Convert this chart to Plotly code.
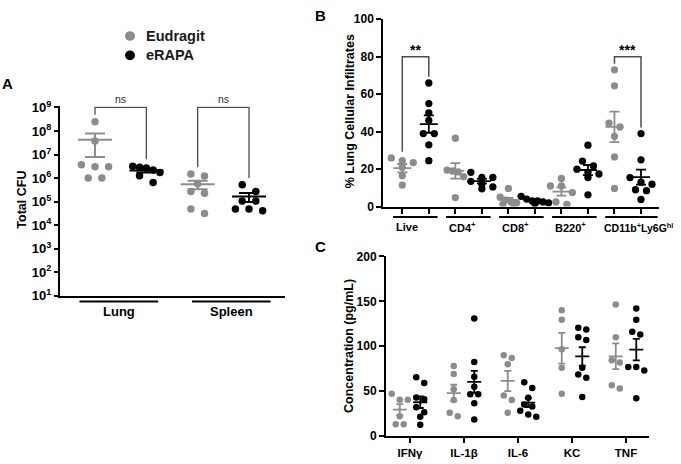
import numpy as np
import plotly.graph_objects as go

W, H = 681, 464
FONT = "Liberation Sans, Arial, Helvetica, sans-serif"
GRAY = "#8c8c8c"
BLACK = "#000000"
BRACKET = "#4d4d4d"

# ---------------- data ----------------
series_names = ["Eudragit", "eRAPA"]
series_colors = [GRAY, BLACK]

# Panel A : Total CFU (log scale)
a_organs = ["Lung", "Spleen"]
a_lung_eudragit = [2.5e8, 3.8e7, 3.0e6, 3.7e6, 3.0e6, 1.0e6, 1.0e6]
a_lung_erapa = [2.7e6, 2.2e6, 1.74e6, 2.9e6, 3.2e6, 1.26e6, 6.5e5]
a_spleen_eudragit = [1.22e6, 1.48e6, 5.8e5, 2.24e5, 2.7e5, 4.9e4, 3.1e4]
a_spleen_erapa = [5.2e5, 2.7e5, 1.05e5, 1.05e5, 4.1e4, 4.9e4, 4.9e4]
a_sig = ["ns", "ns"]
a_exponents = [1, 2, 3, 4, 5, 6, 7, 8, 9]

# Panel B : % lung cellular infiltrates
b_populations = ["Live", "CD4<sup>+</sup>", "CD8<sup>+</sup>", "B220<sup>+</sup>",
                 "CD11b<sup>+</sup>Ly6G<sup>hi</sup>"]
b_live_eudragit = [24.5, 26, 23.5, 21, 16.5, 11.5]
b_live_erapa = [66, 55, 50, 46, 39, 39, 33, 24.5]
b_cd4_eudragit = [36.5, 19.5, 19, 18.5, 16, 4.8]
b_cd4_erapa = [18.3, 15.6, 15.6, 13.5, 12, 10.5, 9.5]
b_cd8_eudragit = [9.7, 5, 3.5, 2.5, 2, 1.2, 1]
b_cd8_erapa = [5.5, 4, 3, 3, 2.5, 2, 1.5]
b_b220_eudragit = [15, 11, 11, 7.5, 2.5, 1.2]
b_b220_erapa = [32.8, 24.3, 21.7, 20, 18.3, 17.4, 15.5, 6.3]
b_cd11b_eudragit = [73, 64.5, 44.5, 42.5, 37.5, 26.5, 9.7]
b_cd11b_erapa = [39, 25, 15.5, 13, 12, 9, 8.5, 3.8]
b_sig = ["**", "", "", "", "***"]
b_yticks = [0, 20, 40, 60, 80, 100]

# Panel C : cytokine concentration (pg/mL)
c_cytokines = ["IFNγ", "IL-1β", "IL-6", "KC", "TNF"]
c_ifng_eudragit = [47, 40.5, 40.5, 22, 13.2, 13.2]
c_ifng_erapa = [65.5, 59, 43, 41, 32, 26.5, 21.5, 12.5]
c_il1b_eudragit = [78, 69, 52, 40, 26, 22]
c_il1b_erapa = [131, 82.5, 66, 55, 46.5, 46.5, 36.5, 18.5]
c_il6_eudragit = [87, 90, 80, 45, 40, 26]
c_il6_erapa = [60, 53.5, 42.5, 35, 33, 28, 24, 21.5]
c_kc_eudragit = [140, 129.6, 96.5, 76, 47]
c_kc_erapa = [120.5, 118.5, 110, 107, 76, 68.5, 65, 43.5]
c_tnf_eudragit = [146.5, 110, 84.5, 82, 56.5, 53]
c_tnf_erapa = [142, 129.5, 116, 113, 77, 77, 73, 42]
c_yticks = [0, 50, 100, 150, 200]

# ---------------- geometry (pixels) ----------------
def px_x(p):
    return p / W


def px_y(p):
    return 1 - p / H


A_X = (60, 285); A_XR = [0.318, 4.701]
A_Y = (101.8, 298); A_YR = [1, 9.05]
B_X = (383.3, 659); B_XR = [0.284, 10.679]
B_Y = (11.7, 205.7); B_YR = [0, 100]
C_X = (386, 649.3); C_XR = [0.556, 5.431]
C_Y = (257.3, 443.3); C_YR = [0, 200]

a_pxu = (A_X[1] - A_X[0]) / (A_XR[1] - A_XR[0])
b_pxu = (B_X[1] - B_X[0]) / (B_XR[1] - B_XR[0])
c_pxu = (C_X[1] - C_X[0]) / (C_XR[1] - C_XR[0])
a_pyu = (A_Y[1] - A_Y[0]) / (A_YR[1] - A_YR[0])
b_pyu = (B_Y[1] - B_Y[0]) / (B_YR[1] - B_YR[0])
c_pyu = (C_Y[1] - C_Y[0]) / (C_YR[1] - C_YR[0])


def swarm(ypix, row_h, step):
    idx = sorted(range(len(ypix)), key=lambda i: -ypix[i])
    rows = []
    for i in idx:
        if rows and ypix[rows[-1][0]] - ypix[i] < row_h:
            rows[-1].append(i)
        else:
            rows.append([i])
    off = [0.0] * len(ypix)
    for r in rows:
        n = len(r)
        sp = step if n <= 3 else step / 2
        for k, i in enumerate(r):
            off[i] = (k - (n - 1) / 2) * sp
    return off


fig = go.Figure()


def add_group(xa, ya, pos, vals, color, ypix, pxu, dot, step, mlen, cap, lw):
    yp = [ypix(v) for v in vals]
    off = swarm(yp, dot, step)
    xs = [pos + o / pxu for o in off]
    fig.add_trace(go.Scatter(x=xs, y=vals, mode="markers",
                             marker=dict(size=dot, color=color, line=dict(width=0)),
                             xaxis=xa, yaxis=ya, hoverinfo="skip", showlegend=False))
    arr = np.asarray(vals, float)
    m = arr.mean()
    sem = arr.std(ddof=1) / np.sqrt(len(arr))
    fig.add_trace(go.Scatter(x=[pos], y=[m], mode="markers",
                             marker=dict(symbol="line-ew", size=mlen / 1.4, color=color,
                                         line=dict(color=color, width=lw)),
                             error_y=dict(type="data", array=[sem], symmetric=True,
                                          color=color, thickness=lw, width=cap),
                             xaxis=xa, yaxis=ya, hoverinfo="skip", showlegend=False))


def bracket(xa, ya, p1, p2, b1, b2, level, lw):
    fig.add_trace(go.Scatter(x=[p1, p1, p2, p2], y=[b1, level, level, b2], mode="lines",
                             line=dict(color=BRACKET, width=lw), xaxis=xa, yaxis=ya,
                             hoverinfo="skip", showlegend=False))


annotations = []

# ---------------- Panel A ----------------
a_data = [[a_lung_eudragit, a_lung_erapa], [a_spleen_eudragit, a_spleen_erapa]]
a_ypix = lambda v: np.log10(v) * a_pyu
for k, organ in enumerate(a_organs):
    for s in range(2):
        add_group("x", "y", 2 * k + 1 + s, a_data[k][s], series_colors[s], a_ypix,
                  a_pxu, 7.5, 13.6, 34, 10, 2)
a_level = 1e9
for k, sig in enumerate(a_sig):
    p1, p2 = 2 * k + 1, 2 * k + 2
    bracket("x", "y", p1, p2, max(a_data[k][0]) * 10 ** 0.29, max(a_data[k][1]) * 10 ** 0.29,
            a_level, 1.3)
    annotations.append(dict(x=(p1 + p2) / 2, y=np.log10(a_level), xref="x", yref="y",
                            text=sig, showarrow=False, yanchor="bottom", yshift=0,
                            font=dict(family=FONT, size=10.5, color="#333333")))
# group underlines (A)
a_mid = (A_XR[0] + A_XR[1]) / 2
a_spans = [(A_XR[0] + 0.38, a_mid - 0.28), (a_mid + 0.38, A_XR[1] - 0.28)]
for k, organ in enumerate(a_organs):
    x0, x1 = a_spans[k]
    fig.add_trace(go.Scatter(x=[x0, x1], y=[0.5, 0.5], mode="lines",
                             line=dict(color=BLACK, width=2.2), xaxis="x", yaxis="y4",
                             hoverinfo="skip", showlegend=False))
    annotations.append(dict(x=(x0 + x1) / 2, y=px_y(314), xref="x", yref="paper",
                            text="<b>%s</b>" % organ, showarrow=False, yanchor="middle",
                            font=dict(family=FONT, size=13, color=BLACK)))

# ---------------- Panel B ----------------
b_data = [[b_live_eudragit, b_live_erapa], [b_cd4_eudragit, b_cd4_erapa],
          [b_cd8_eudragit, b_cd8_erapa], [b_b220_eudragit, b_b220_erapa],
          [b_cd11b_eudragit, b_cd11b_erapa]]
b_ypix = lambda v: v * b_pyu
for k in range(len(b_populations)):
    for s in range(2):
        add_group("x2", "y2", 2 * k + 1 + s, b_data[k][s], series_colors[s], b_ypix,
                  b_pxu, 7.3, 11, 18, 5, 1.8)
b_level = 80
for k, sig in enumerate(b_sig):
    if not sig:
        continue
    p1, p2 = 2 * k + 1, 2 * k + 2
    bracket("x2", "y2", p1, p2, max(b_data[k][0]) + 3.3, max(b_data[k][1]) + 3.3, b_level, 1.5)
    annotations.append(dict(x=(p1 + p2) / 2, y=b_level, xref="x2", yref="y2",
                            text="<b>%s</b>" % sig, showarrow=False, yanchor="bottom",
                            yshift=-3, font=dict(family=FONT, size=14, color=BLACK)))
for k, lab in enumerate(b_populations):
    last = k == len(b_populations) - 1
    x0 = 2 * k + 1 - 0.35
    x1 = B_XR[1] - 0.05 if last else 2 * k + 2 + 0.33
    fig.add_trace(go.Scatter(x=[x0, x1], y=[0.5, 0.5], mode="lines",
                             line=dict(color=BLACK, width=2), xaxis="x2", yaxis="y5",
                             hoverinfo="skip", showlegend=False))
    annotations.append(dict(x=x0, y=px_y(227), xref="x2", yref="paper",
                            text="<b>%s</b>" % lab, showarrow=False, xanchor="left",
                            yanchor="middle", xshift=-3 if last else 1,
                            font=dict(family=FONT, size=10.5 if last else 11, color=BLACK)))

# ---------------- Panel C ----------------
c_data = [[c_ifng_eudragit, c_ifng_erapa], [c_il1b_eudragit, c_il1b_erapa],
          [c_il6_eudragit, c_il6_erapa], [c_kc_eudragit, c_kc_erapa],
          [c_tnf_eudragit, c_tnf_erapa]]
c_ypix = lambda v: v * c_pyu
c_sub = 0.19
for k in range(len(c_cytokines)):
    for s in range(2):
        add_group("x3", "y3", k + 1 + (s - 0.5) * 2 * c_sub, c_data[k][s], series_colors[s],
                  c_ypix, c_pxu, 6.5, 8, 14, 3.5, 1.8)

# ---------------- axes ----------------
axis_common = dict(showline=True, linecolor=BLACK, linewidth=2, showgrid=False,
                   zeroline=False, ticks="outside", tickcolor=BLACK, tickwidth=2,
                   tickfont=dict(family=FONT, size=12, color=BLACK, weight="bold"))

layout = dict(
    width=W, height=H, margin=dict(l=0, r=0, t=0, b=0),
    plot_bgcolor="white", paper_bgcolor="white", showlegend=False,
    xaxis=dict(axis_common, domain=[px_x(A_X[0]), px_x(A_X[1])], range=A_XR, anchor="y",
               ticks="", showticklabels=False),
    yaxis=dict(axis_common, type="log", domain=[px_y(A_Y[1]), px_y(A_Y[0])], range=A_YR,
               anchor="x", ticklen=4, tickvals=[10.0 ** e for e in a_exponents],
               ticktext=["<b>10<sup>%d</sup></b>" % e for e in a_exponents],
               tickfont=dict(family=FONT, size=13, color=BLACK, weight="bold")),
    xaxis2=dict(axis_common, domain=[px_x(B_X[0]), px_x(B_X[1])], range=B_XR, anchor="y2",
                ticklen=5, tickvals=list(range(1, 11)), showticklabels=False),
    yaxis2=dict(axis_common, domain=[px_y(B_Y[1]), px_y(B_Y[0])], range=B_YR, anchor="x2",
                ticklen=5, tickvals=b_yticks),
    xaxis3=dict(axis_common, domain=[px_x(C_X[0]), px_x(C_X[1])], range=C_XR, anchor="y3",
                ticklen=5, tickvals=list(range(1, len(c_cytokines) + 1)),
                ticktext=["<b>%s</b>" % c for c in c_cytokines],
                tickfont=dict(family=FONT, size=11.5, color=BLACK, weight="bold")),
    yaxis3=dict(axis_common, domain=[px_y(C_Y[1]), px_y(C_Y[0])], range=C_YR, anchor="x3",
                ticklen=5, tickvals=c_yticks),
    yaxis4=dict(domain=[px_y(308), px_y(300)], range=[0, 1], anchor="x", visible=False),
    yaxis5=dict(domain=[px_y(221), px_y(212)], range=[0, 1], anchor="x2", visible=False),
)

# axis titles
for text, cx, cy in [("Total CFU", 22.5, 199), ("% Lung Cellular Infiltrates", 350, 107),
                     ("Concentration (pg/mL)", 349, 350)]:
    annotations.append(dict(x=px_x(cx), y=px_y(cy), xref="paper", yref="paper",
                            text="<b>%s</b>" % text, textangle=-90, showarrow=False,
                            xanchor="center", yanchor="middle",
                            font=dict(family=FONT, size=12.5, color=BLACK)))
# panel letters
for text, cx, cy in [("A", 7, 78.5), ("B", 320, 7.5), ("C", 320, 247)]:
    annotations.append(dict(x=px_x(cx), y=px_y(cy), xref="paper", yref="paper",
                            text="<b>%s</b>" % text, showarrow=False,
                            xanchor="center", yanchor="middle",
                            font=dict(family=FONT, size=15, color=BLACK)))

# legend
shapes = []
for s, name in enumerate(series_names):
    cy = 29 + 20 * s
    shapes.append(dict(type="circle", xref="paper", yref="paper",
                       x0=px_x(125), x1=px_x(135), y0=px_y(cy + 5), y1=px_y(cy - 5),
                       fillcolor=series_colors[s], line=dict(width=0)))
    annotations.append(dict(x=px_x(144), y=px_y(cy), xref="paper", yref="paper",
                            text="<b>%s</b>" % name, showarrow=False, xanchor="left",
                            yanchor="middle", font=dict(family=FONT, size=14.5, color="#1a1a1a")))

layout["annotations"] = annotations
layout["shapes"] = shapes
fig.update_layout(**layout)
fig.write_html("out.html", config={"displayModeBar": False},
               post_script="document.body.style.margin='0px';document.body.style.padding='0px';")
